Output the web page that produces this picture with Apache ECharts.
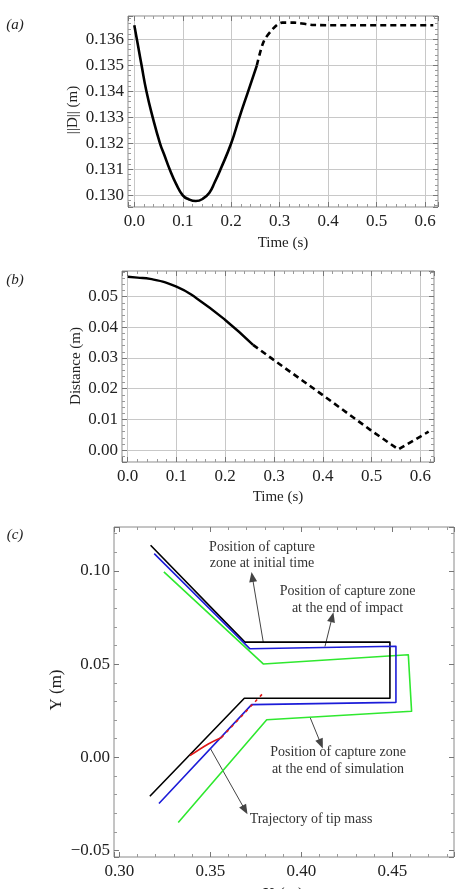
<!DOCTYPE html>
<html>
<head>
<meta charset="utf-8">
<script src="https://cdn.jsdelivr.net/npm/echarts@6/dist/echarts.min.js"></script>
<style>
  html, body { margin: 0; padding: 0; background: #fff; }
  #chart { width: 462px; height: 889px; }
</style>
</head>
<body>
<div id="chart"></div>
<script>
// (a) norma de D vs tiempo
var tSolidA = [0, 0.008, 0.015, 0.025, 0.038, 0.053, 0.062, 0.073, 0.086, 0.1, 0.113, 0.127, 0.141, 0.155, 0.166, 0.178, 0.2, 0.217, 0.235, 0.253];
var dSolidA = [0.13654, 0.13572, 0.1350, 0.1340, 0.1330, 0.1320, 0.13155, 0.1310, 0.13045, 0.1300, 0.12984, 0.12978, 0.12986, 0.1301, 0.1305, 0.1310, 0.1320, 0.1330, 0.1340, 0.1350];
var tDashA = [0.253, 0.267, 0.287, 0.305, 0.33, 0.37, 0.45, 0.55, 0.617];
var dDashA = [0.1350, 0.13591, 0.13642, 0.13664, 0.13664, 0.13655, 0.13654, 0.13654, 0.13654];

// (b) distancia vs tiempo
var tSolidB = [0, 0.02, 0.046, 0.1, 0.141, 0.2, 0.257];
var dSolidB = [0.0565, 0.0562, 0.0558, 0.0533, 0.0495, 0.0424, 0.0343];
var tDashB = [0.257, 0.3, 0.4, 0.498, 0.555, 0.617];
var dDashB = [0.0343, 0.0293, 0.0179, 0.0065, 0.0002, 0.006];

// (c) posiciones de la zona de captura
var blackX = [0.3172, 0.3690, 0.4487, 0.4487, 0.3687, 0.3168];
var blackY = [0.1137, 0.0618, 0.0618, 0.0317, 0.0317, -0.0208];
var blueX = [0.3192, 0.3718, 0.452, 0.452, 0.3727, 0.3218];
var blueY = [0.1092, 0.0582, 0.0596, 0.0295, 0.0283, -0.0247];
var greenX = [0.3245, 0.3791, 0.4588, 0.4606, 0.381, 0.3324];
var greenY = [0.0994, 0.0501, 0.055, 0.0247, 0.0202, -0.0349];
var redSolidX = [0.3388, 0.3489, 0.3562];
var redSolidY = [0.0009, 0.0072, 0.0107];
var redDashX = [0.3562, 0.3795];
var redDashY = [0.0107, 0.0349];

// flechas de las anotaciones (desde, hasta)
var arrowFrom = [[0.3791, 0.0618], [0.4130, 0.0594], [0.4048, 0.0215], [0.3502, 0.0045]];
var arrowTo = [[0.3731, 0.0967], [0.4170, 0.0752], [0.4108, 0.0072], [0.3691, -0.0282]];

function pares(xs, ys) {
    return xs.map(function (x, i) { return [x, ys[i]]; });
}

var serif = '"Liberation Serif", "Times New Roman", serif';

function fmt(step, dec) {
    return function (v) {
        var k = v / step;
        if (Math.abs(k - Math.round(k)) > 1e-6) return '';
        var s = Math.abs(v) < 1e-12 ? (0).toFixed(dec) : v.toFixed(dec);
        return s.charAt(0) === '-' ? '\u2212' + s.slice(1) : s;
    };
}

function eje(grid, min, max, step, dec, minorN, grill, pos, labels) {
    return {
        type: 'value', gridIndex: grid, min: min, max: max,
        minInterval: step, maxInterval: step, position: pos,
        axisLine: { show: false, onZero: false },
        axisTick: { show: true, inside: true, length: 5, lineStyle: { color: '#777' } },
        minorTick: { show: true, splitNumber: minorN, length: 3, lineStyle: { color: '#999' } },
        axisLabel: {
            show: labels, margin: (pos === 'bottom' ? 6 : 4), color: '#222',
            fontFamily: serif, fontSize: 17, formatter: fmt(step, dec)
        },
        splitLine: { show: grill && labels, lineStyle: { color: '#c8c8c8', width: 1 } }
    };
}

function ejeX(grid, min, max, step, dec, minorN, grill) {
    return [eje(grid, min, max, step, dec, minorN, grill, 'bottom', true),
            eje(grid, min, max, step, dec, minorN, grill, 'top', false)];
}

function ejeY(grid, min, max, step, dec, minorN, grill) {
    return [eje(grid, min, max, step, dec, minorN, grill, 'left', true),
            eje(grid, min, max, step, dec, minorN, grill, 'right', false)];
}

function linea(xi, yi, data, color, width, dash, smooth) {
    return {
        type: 'line', xAxisIndex: xi, yAxisIndex: yi, data: data,
        symbol: 'none', smooth: smooth || false, silent: true,
        lineStyle: { color: color, width: width, type: dash || 'solid', cap: 'butt', join: 'round' },
        z: 5
    };
}

function texto(x, y, s, size, extra) {
    var el = {
        type: 'text', x: x, y: y, silent: true,
        style: {
            text: s, fill: '#222', align: 'center', verticalAlign: 'middle',
            font: (extra && extra.italic ? 'italic ' : '') + size + 'px ' + serif
        },
        z: 20
    };
    if (extra && extra.rot) el.rotation = Math.PI / 2;
    if (extra && extra.color) el.style.fill = extra.color;
    return el;
}

var chart = echarts.init(document.getElementById('chart'), null, { renderer: 'canvas' });

var flechas = arrowFrom.map(function (p, i) {
    return [{ coord: p }, { coord: arrowTo[i] }];
});

var option = {
    animation: false,
    backgroundColor: '#fff',
    textStyle: { fontFamily: serif },
    grid: [
        { left: 128, top: 16, width: 310, height: 191, show: true, borderColor: '#8a8a8a', borderWidth: 1, backgroundColor: 'transparent' },
        { left: 122, top: 271, width: 312, height: 191, show: true, borderColor: '#8a8a8a', borderWidth: 1, backgroundColor: 'transparent' },
        { left: 114, top: 527, width: 340, height: 330, show: true, borderColor: '#8a8a8a', borderWidth: 1, backgroundColor: 'transparent' }
    ],
    xAxis: [].concat(
        ejeX(0, -0.0130, 0.6268, 0.1, 1, 5, true),
        ejeX(1, -0.0116, 0.628, 0.1, 1, 5, true),
        ejeX(2, 0.2971, 0.4839, 0.05, 2, 5, false)
    ),
    yAxis: [].concat(
        ejeY(0, 0.12955, 0.136896, 0.001, 3, 5, true),
        ejeY(1, -0.0039, 0.05837, 0.01, 2, 5, true),
        ejeY(2, -0.0534, 0.1235, 0.05, 2, 5, false)
    ),
    series: [
        linea(0, 0, pares(tSolidA, dSolidA), '#000', 2.6, 'solid', 0.5),
        linea(0, 0, pares(tDashA, dDashA), '#000', 2.6, [6, 4], 0.3),
        linea(2, 2, pares(tSolidB, dSolidB), '#000', 2.4, 'solid', 0.5),
        linea(2, 2, pares(tDashB, dDashB), '#000', 2.6, [6, 4], false),
        linea(4, 4, pares(greenX, greenY), '#2fe82f', 1.6),
        linea(4, 4, pares(blackX, blackY), '#000', 1.6),
        linea(4, 4, pares(blueX, blueY), '#1c1cd8', 1.6),
        linea(4, 4, pares(redSolidX, redSolidY), '#e01818', 1.6, 'solid', 0.4),
        linea(4, 4, pares(redDashX, redDashY), '#e01818', 1.6, [3, 4]),
        {
            type: 'line', xAxisIndex: 4, yAxisIndex: 4, data: [], silent: true,
            markLine: {
                silent: true, symbol: ['none', 'triangle'], symbolSize: [8, 10],
                label: { show: false },
                lineStyle: { color: '#444', width: 1, type: 'solid' },
                data: flechas
            }
        }
    ],
    graphic: [
        texto(15, 25, '(a)', 15, { italic: true }),
        texto(15, 280, '(b)', 15, { italic: true }),
        texto(15, 535, '(c)', 15, { italic: true }),
        texto(73, 110, '||D|| (m)', 15, { rot: true }),
        texto(283, 243, 'Time (s)', 15),
        texto(76, 366, 'Distance (m)', 15, { rot: true }),
        texto(278, 497, 'Time (s)', 15),
        texto(57, 690, 'Y (m)', 17, { rot: true }),
        texto(283, 895, 'X (m)', 17),
        texto(262, 547, 'Position of capture', 14, { color: '#333' }),
        texto(262, 563.5, 'zone at initial time', 14, { color: '#333' }),
        texto(347.5, 591, 'Position of capture zone', 14, { color: '#333' }),
        texto(347.5, 608, 'at the end of impact', 14, { color: '#333' }),
        texto(338, 752.5, 'Position of capture zone', 14, { color: '#333' }),
        texto(338, 769.5, 'at the end of simulation', 14, { color: '#333' }),
        texto(311, 819, 'Trajectory of tip mass', 14, { color: '#333' })
    ]
};

option && chart.setOption(option);
</script>
</body>
</html>
